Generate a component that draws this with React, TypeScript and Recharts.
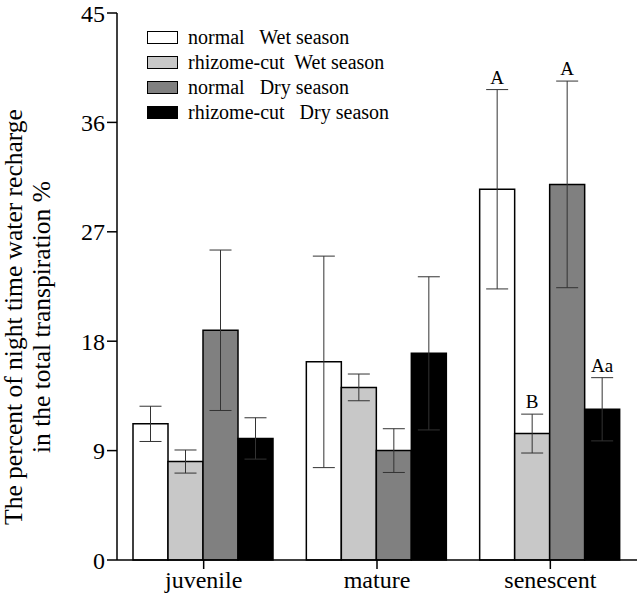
import { BarChart, Bar, XAxis, YAxis, ErrorBar, LabelList } from 'recharts';

const categories = ['juvenile', 'mature', 'senescent'];

const normalWet = [11.2, 16.3, 30.5];
const normalWetErr = [1.45, 8.7, 8.2];
const cutWet = [8.1, 14.2, 10.4];
const cutWetErr = [0.95, 1.1, 1.6];
const normalDry = [18.9, 9.0, 30.9];
const normalDryErr = [6.6, 1.8, 8.5];
const cutDry = [10.0, 17.0, 12.4];
const cutDryErr = [1.7, 6.3, 2.6];

const normalWetMark = ['', '', 'A'];
const cutWetMark = ['', '', 'B'];
const normalDryMark = ['', '', 'A'];
const cutDryMark = ['', '', 'Aa'];

const yTicks = [0, 9, 18, 27, 36, 45];

const data = categories.map((name, i) => ({
  name,
  nw: normalWet[i], nwErr: normalWetErr[i], nwMark: normalWetMark[i],
  cw: cutWet[i], cwErr: cutWetErr[i], cwMark: cutWetMark[i],
  nd: normalDry[i], ndErr: normalDryErr[i], ndMark: normalDryMark[i],
  cd: cutDry[i], cdErr: cutDryErr[i], cdMark: cutDryMark[i],
}));

const series = [
  { key: 'nw', name: 'normal   Wet season', fill: '#ffffff', errs: normalWetErr, vals: normalWet },
  { key: 'cw', name: 'rhizome-cut  Wet season', fill: '#c8c8c8', errs: cutWetErr, vals: cutWet },
  { key: 'nd', name: 'normal   Dry season', fill: '#808080', errs: normalDryErr, vals: normalDry },
  { key: 'cd', name: 'rhizome-cut   Dry season', fill: '#000000', errs: cutDryErr, vals: cutDry },
];

const FONT = 'Liberation Serif';

function makeMark(errs: number[], vals: number[]) {
  return (props: any) => {
    const { x, y, width, height, value, index } = props;
    if (!value) return null;
    const pxPerUnit = height / vals[index];
    const top = y - errs[index] * pxPerUnit;
    return (
      <text x={x + width / 2} y={top - 6} textAnchor="middle" style={{ fontFamily: FONT }} fontSize={19} fill="#000">
        {value}
      </text>
    );
  };
}

function YTitle() {
  const cy = 317;
  return (
    <g style={{ fontFamily: FONT }} fontSize={25.5} fill="#000">
      <text x={22} y={cy} textAnchor="middle" transform={`rotate(-90 22 ${cy})`}>
        The percent of night time water recharge
      </text>
      <text x={50} y={cy} textAnchor="middle" transform={`rotate(-90 50 ${cy})`}>
        in the total transpiration %
      </text>
    </g>
  );
}

function LegendBox() {
  return (
    <div style={{ position: 'absolute', left: 147, top: 25, fontFamily: FONT, fontSize: 20, color: '#000' }}>
      {series.map((s) => (
        <div key={s.key} style={{ display: 'flex', alignItems: 'center', height: 25 }}>
          <div style={{ width: 29, height: 11, background: s.fill, border: '1.5px solid #000', marginRight: 10 }} />
          <span style={{ whiteSpace: 'pre' }}>{s.name}</span>
        </div>
      ))}
    </div>
  );
}

const tickStyle = { fill: '#000', fontSize: 24, style: { fontFamily: FONT } };

export default function App() {
  return (
    <div style={{ position: 'absolute', left: 0, top: 0, width: 640, height: 603, background: '#fff', fontFamily: FONT }}>
      <BarChart width={640} height={603} data={data} margin={{ top: 13, right: 3, bottom: 0, left: 0 }} barGap={0} barCategoryGap={16} style={{ fontFamily: FONT }}>
        <XAxis
          dataKey="name"
          height={43}
          stroke="#000"
          strokeWidth={1.5}
          tickSize={9}
          tickLine={{ stroke: '#000', strokeWidth: 1.5 }}
          tick={tickStyle}
        />
        <YAxis
          domain={[0, 45]}
          ticks={yTicks}
          width={117}
          stroke="#000"
          strokeWidth={1.5}
          tickSize={10}
          tickLine={{ stroke: '#000', strokeWidth: 1.5 }}
          tick={tickStyle}
          label={<YTitle />}
        />
        {series.map((s) => (
          <Bar key={s.key} dataKey={s.key} name={s.name} fill={s.fill} stroke="#000" strokeWidth={1.5} isAnimationActive={false}>
            <ErrorBar dataKey={`${s.key}Err`} width={11} stroke="#333" strokeWidth={1} />
            <LabelList dataKey={`${s.key}Mark`} content={makeMark(s.errs, s.vals)} />
          </Bar>
        ))}
      </BarChart>
      <LegendBox />
    </div>
  );
}
